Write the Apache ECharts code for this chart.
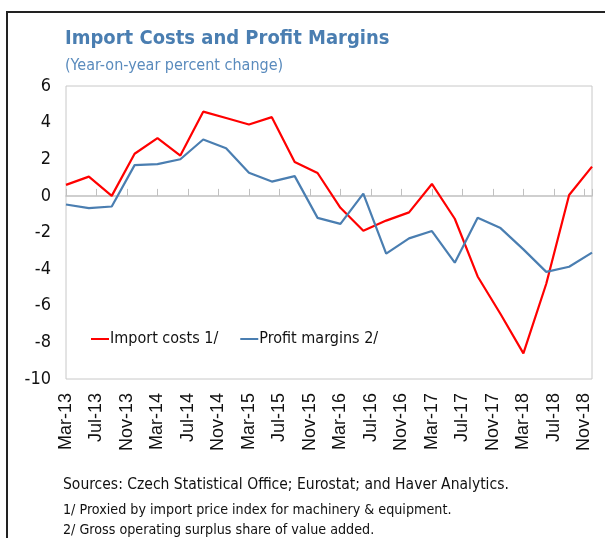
<!DOCTYPE html>
<html>
<head>
<meta charset="utf-8">
<script src="https://cdn.jsdelivr.net/npm/echarts@6/dist/echarts.min.js"></script>
<style>
  html, body { margin: 0; padding: 0; background: #fff; }
  #frame { position: absolute; left: 6px; top: 11px; width: 620px; height: 560px;
           border-left: 2px solid #222; border-top: 2px solid #222; }
  #chart { width: 605px; height: 538px; position: absolute; left: 0; top: 0; }
</style>
</head>
<body>
<div id="frame"></div>
<div id="chart"></div>
<script>
// quarterly observations, placed on a monthly axis starting Mar-13
var quarters = ['Mar-13','Jun-13','Sep-13','Dec-13','Mar-14','Jun-14','Sep-14','Dec-14',
                'Mar-15','Jun-15','Sep-15','Dec-15','Mar-16','Jun-16','Sep-16','Dec-16',
                'Mar-17','Jun-17','Sep-17','Dec-17','Mar-18','Jun-18','Sep-18','Dec-18'];
var importCosts = [0.6, 1.05, 0.0, 2.3, 3.15, 2.2, 4.6, 4.25, 3.9, 4.3, 1.85, 1.25,
                   -0.65, -1.9, -1.35, -0.9, 0.65, -1.25, -4.4, -6.45, -8.6, -4.8, 0.05, 1.6];
var profitMargins = [-0.47, -0.67, -0.58, 1.68, 1.73, 2.0, 3.08, 2.6, 1.26, 0.78, 1.08, -1.2,
                     -1.53, 0.12, -3.15, -2.32, -1.92, -3.65, -1.2, -1.76, -2.92, -4.15, -3.87, -3.1];
var monthNames = ['Jan','Feb','Mar','Apr','May','Jun','Jul','Aug','Sep','Oct','Nov','Dec'];

function monthLabel(idx) {
    var m = 2 + idx;           // index 0 = Mar-13
    var y = 13 + Math.floor(m / 12);
    return monthNames[m % 12] + '-' + y;
}

var redSeries = [], blueSeries = [];
for (var i = 0; i < quarters.length; i++) {
    redSeries.push([i * 3, importCosts[i]]);
    blueSeries.push([i * 3, profitMargins[i]]);
}

var textFont = '"DejaVu Sans Condensed", "Noto Sans", sans-serif';

var myChart = echarts.init(document.getElementById('chart'));
var option = {
    animation: false,
    title: {
        text: 'Import Costs and Profit Margins',
        subtext: '(Year-on-year percent change)',
        left: 60,
        top: 24,
        itemGap: 9,
        textStyle: { color: '#4a7eb1', fontSize: 20, fontWeight: 'bold', fontFamily: textFont },
        subtextStyle: { color: '#5a8bbd', fontSize: 16, fontFamily: textFont }
    },
    legend: {
        left: 86,
        top: 326,
        icon: 'rect',
        itemWidth: 18,
        itemHeight: 2,
        itemGap: 22,
        textStyle: { color: '#111', fontSize: 16, fontFamily: textFont, padding: [0, 0, 0, -4] },
        data: ['Import costs 1/', 'Profit margins 2/']
    },
    grid: {
        left: 66, top: 86, right: 13, bottom: 159,
        show: true, borderColor: '#c8c8c8', borderWidth: 1
    },
    xAxis: [
        {
            type: 'value', min: 0, max: 69, interval: 4,
            axisLine: { show: false, onZero: false },
            axisTick: { show: false },
            splitLine: { show: false },
            axisLabel: {
                rotate: 90, margin: 14, color: '#111', fontSize: 18,
                fontFamily: '"Liberation Sans", Arial, sans-serif',
                showMaxLabel: false,
                formatter: function (v) { return v % 4 === 0 ? monthLabel(v) : ''; }
            }
        },
        {
            type: 'value', min: 0, max: 69, interval: 4, position: 'bottom',
            axisLine: { show: true, onZero: true, lineStyle: { color: '#c0c0c0', width: 1.5 } },
            axisTick: { show: true, inside: true, length: 7, lineStyle: { color: '#c0c0c0' } },
            axisLabel: { show: false },
            splitLine: { show: false }
        }
    ],
    yAxis: {
        type: 'value', min: -10, max: 6, interval: 2,
        axisLine: { show: false },
        axisTick: { show: false },
        splitLine: { show: false },
        axisLabel: { color: '#111', fontSize: 18, margin: 15, fontFamily: textFont }
    },
    series: [
        {
            name: 'Import costs 1/', type: 'line', xAxisIndex: 0,
            data: redSeries, showSymbol: false, symbol: 'none',
            lineStyle: { color: '#ff0000', width: 2.2 },
            itemStyle: { color: '#ff0000' }
        },
        {
            name: 'Profit margins 2/', type: 'line', xAxisIndex: 0,
            data: blueSeries, showSymbol: false, symbol: 'none',
            lineStyle: { color: '#4a7eb1', width: 2.2 },
            itemStyle: { color: '#4a7eb1' }
        }
    ],
    graphic: [
        { type: 'text', left: 63, top: 477,
          style: { text: 'Sources: Czech Statistical Office; Eurostat; and Haver Analytics.',
                   fill: '#111', fontSize: 15.5, fontFamily: textFont } },
        { type: 'text', left: 63, top: 503,
          style: { text: '1/ Proxied by import price index for machinery & equipment.',
                   fill: '#111', fontSize: 14.2, fontFamily: textFont } },
        { type: 'text', left: 63, top: 523,
          style: { text: '2/ Gross operating surplus share of value added.',
                   fill: '#111', fontSize: 14.2, fontFamily: textFont } }
    ]
};
myChart.setOption(option);
</script>
</body>
</html>
